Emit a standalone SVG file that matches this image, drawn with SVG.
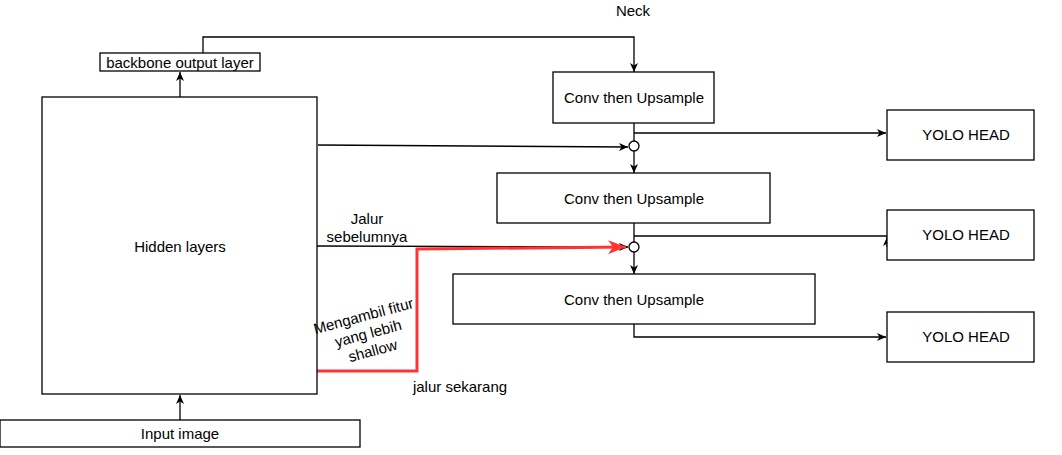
<svg xmlns="http://www.w3.org/2000/svg" width="1062" height="455" viewBox="0 0 1062 455">
<style>
.box{fill:#fff;stroke:#000;stroke-width:1.3}
.t{font-family:"Liberation Sans",Arial,sans-serif;font-size:15px;fill:#000;text-anchor:middle;dominant-baseline:central}
.c{fill:none;stroke:#000;stroke-width:1.3}
.r{fill:none;stroke:#ff3333;stroke-width:3}
</style>
<defs>
<marker id="a" markerWidth="10" markerHeight="10" refX="9" refY="5" orient="auto" markerUnits="userSpaceOnUse">
<path d="M0,1 L9,5 L0,9 L2.5,5 Z" fill="#000"/>
</marker>
<marker id="ar" markerWidth="20" markerHeight="14" refX="18" refY="7" orient="auto" markerUnits="userSpaceOnUse">
<path d="M0,0 L18,7 L0,14 L5,7 Z" fill="#ff3333"/>
</marker>
</defs>
<rect width="1062" height="455" fill="#fff"/>
<g id="connectors">
<path class="c" d="M180 420 V395" marker-end="url(#a)"/>
<path class="c" d="M180 97 V72" marker-end="url(#a)"/>
<path class="c" d="M203 53 V37 H634 V72" marker-end="url(#a)"/>
<path class="c" d="M634 123 V141"/>
<path class="c" d="M634 133 H886" marker-end="url(#a)"/>
<path class="c" d="M318 145 L628 147" marker-end="url(#a)"/>
<path class="c" d="M634 151 V173" marker-end="url(#a)"/>
<path class="c" d="M634 223 V242"/>
<path class="c" d="M634 236 H887"/>
<path class="c" d="M887 247 V237" marker-end="url(#a)"/>
<path class="c" d="M317 246 L628 247" marker-end="url(#a)"/>
<path class="r" d="M316 371 H417 V249 L626 247" marker-end="url(#ar)"/>
<path class="c" d="M634 252 V274" marker-end="url(#a)"/>
<path class="c" d="M634 324 V337 H886" marker-end="url(#a)"/>
<circle cx="634" cy="146" r="5" fill="#fff" stroke="#000" stroke-width="1.3"/>
<circle cx="634" cy="247" r="5" fill="#fff" stroke="#000" stroke-width="1.3"/>
</g>
<g id="input"><rect class="box" x="0" y="420" width="360" height="27"/><text class="t" x="180" y="433">Input image</text></g>
<g id="hidden"><rect class="box" x="42" y="97" width="275" height="297"/><text class="t" x="180" y="246">Hidden layers</text></g>
<g id="backbone"><rect class="box" x="100" y="53" width="160" height="18"/><text class="t" x="180" y="62">backbone output layer</text></g>
<g id="conv1"><rect class="box" x="553" y="72" width="161" height="51"/><text class="t" x="634" y="97">Conv then Upsample</text></g>
<g id="conv2"><rect class="box" x="497" y="173" width="273" height="50"/><text class="t" x="634" y="198">Conv then Upsample</text></g>
<g id="conv3"><rect class="box" x="453" y="274" width="362" height="50"/><text class="t" x="634" y="299">Conv then Upsample</text></g>
<g id="yolo1"><rect class="box" x="887" y="110" width="147" height="50"/><text class="t" x="966" y="134">YOLO HEAD</text></g>
<g id="yolo2"><rect class="box" x="887" y="210" width="147" height="50"/><text class="t" x="966" y="234">YOLO HEAD</text></g>
<g id="yolo3"><rect class="box" x="887" y="312" width="147" height="50"/><text class="t" x="966" y="336">YOLO HEAD</text></g>
<g id="labels">
<text class="t" x="633" y="10">Neck</text>
<text class="t" x="367" y="218">Jalur</text>
<text class="t" x="367" y="236">sebelumnya</text>
<g transform="rotate(-15 368 333)">
<text class="t" x="368" y="315">Mengambil fitur</text>
<text class="t" x="368" y="333">yang lebih</text>
<text class="t" x="368" y="351">shallow</text>
</g>
<text class="t" x="460" y="386">jalur sekarang</text>
</g>
</svg>
